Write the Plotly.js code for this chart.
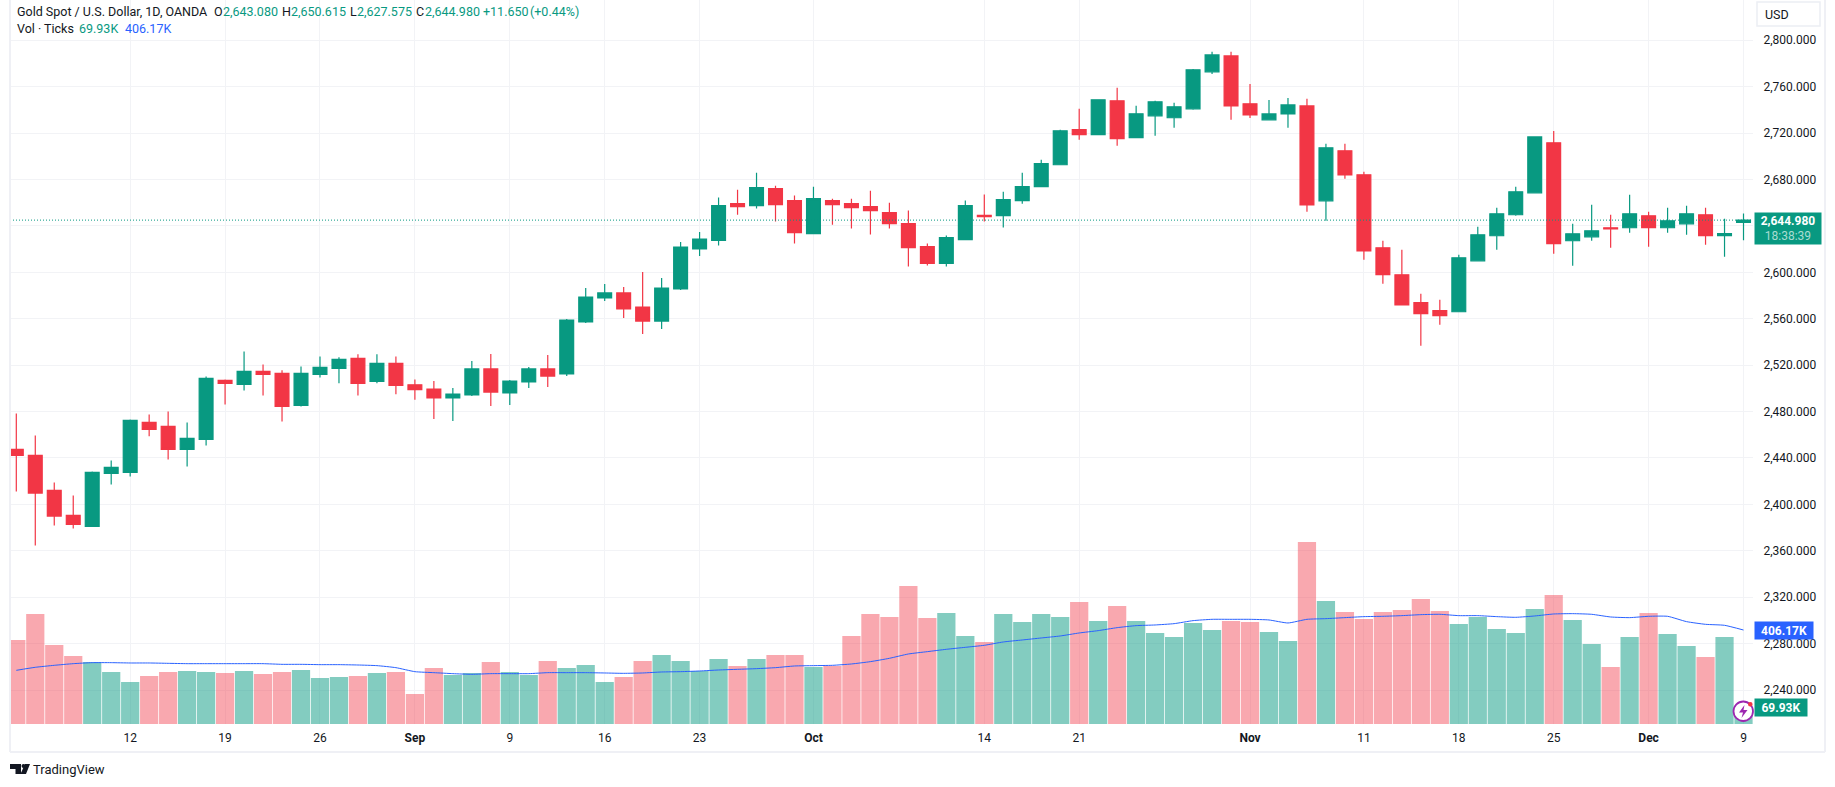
<!DOCTYPE html>
<html>
<head>
<meta charset="utf-8">
<title>Gold Spot / U.S. Dollar</title>
<script src="https://cdn.plot.ly/plotly-3.0.1.min.js"></script>
<style>
  html, body { margin: 0; padding: 0; background: #fff; }
  #plot { width: 1835px; height: 787px; }
</style>
</head>
<body>
<div id="plot"></div>
<script>
// ── Values ──────────────────────────────────────────────────────────
const dates = [
  "2024-08-02",
  "2024-08-05","2024-08-06","2024-08-07","2024-08-08","2024-08-09",
  "2024-08-12","2024-08-13","2024-08-14","2024-08-15","2024-08-16",
  "2024-08-19","2024-08-20","2024-08-21","2024-08-22","2024-08-23",
  "2024-08-26","2024-08-27","2024-08-28","2024-08-29","2024-08-30",
  "2024-09-02","2024-09-03","2024-09-04","2024-09-05","2024-09-06",
  "2024-09-09","2024-09-10","2024-09-11","2024-09-12","2024-09-13",
  "2024-09-16","2024-09-17","2024-09-18","2024-09-19","2024-09-20",
  "2024-09-23","2024-09-24","2024-09-25","2024-09-26","2024-09-27",
  "2024-09-30","2024-10-01","2024-10-02","2024-10-03","2024-10-04",
  "2024-10-07","2024-10-08","2024-10-09","2024-10-10","2024-10-11",
  "2024-10-14","2024-10-15","2024-10-16","2024-10-17","2024-10-18",
  "2024-10-21","2024-10-22","2024-10-23","2024-10-24","2024-10-25",
  "2024-10-28","2024-10-29","2024-10-30","2024-10-31","2024-11-01",
  "2024-11-04","2024-11-05","2024-11-06","2024-11-07","2024-11-08",
  "2024-11-11","2024-11-12","2024-11-13","2024-11-14","2024-11-15",
  "2024-11-18","2024-11-19","2024-11-20","2024-11-21","2024-11-22",
  "2024-11-25","2024-11-26","2024-11-27","2024-11-28","2024-11-29",
  "2024-12-02","2024-12-03","2024-12-04","2024-12-05","2024-12-06",
  "2024-12-09",
];
const opens = [
  2447.4,
  2442.2,2412.0,2390.5,2381.0,2426.7,
  2427.5,2470.6,2467.2,2447.4,2456.0,
  2506.8,2503.4,2514.6,2512.9,2485.3,
  2512.0,2517.2,2525.8,2506.0,2521.5,
  2503.0,2499.4,2491.7,2494.3,2516.7,
  2496.0,2505.5,2516.7,2512.4,2557.2,
  2577.9,2582.2,2570.1,2558.0,2585.6,
  2620.1,2627.4,2659.2,2657.5,2672.1,
  2661.8,2633.4,2661.8,2659.2,2656.6,
  2651.5,2642.0,2622.2,2607.6,2628.2,
  2649.0,2648.9,2661.8,2673.8,2692.7,
  2722.9,2718.6,2747.8,2716.0,2734.9,
  2733.2,2740.9,2772.8,2786.5,2745.2,
  2731.4,2736.5,2743.4,2661.6,2704.7,
  2684.0,2621.1,2597.9,2573.8,2566.9,
  2566.0,2609.9,2631.5,2649.6,2668.5,
  2711.6,2627.2,2630.6,2638.4,2638.4,
  2648.7,2638.4,2641.8,2649.6,2631.5,
  2643.08,
];
const highs = [
  2478.4,
  2459.4,2418.9,2407.7,2428.4,2437.9,
  2473.2,2477.5,2480.1,2470.6,2510.3,
  2507.7,2531.8,2520.6,2515.5,2518.9,
  2527.5,2526.7,2529.3,2529.3,2527.5,
  2507.7,2506.3,2500.3,2523.6,2529.6,
  2507.2,2518.4,2528.7,2559.8,2586.5,
  2589.9,2587.4,2600.3,2595.1,2626.1,
  2634.8,2664.4,2671.2,2685.9,2674.7,
  2666.1,2673.8,2663.5,2663.5,2670.4,
  2660.0,2653.2,2624.8,2631.7,2661.8,
  2667.0,2669.5,2685.9,2697.0,2722.9,
  2740.9,2748.7,2759.0,2743.5,2747.8,
  2746.1,2775.3,2790.0,2790.0,2762.4,
  2748.6,2750.3,2749.5,2710.7,2710.7,
  2686.6,2627.2,2619.4,2581.5,2576.3,
  2615.1,2639.2,2655.6,2673.7,2716.7,
  2721.9,2641.8,2658.2,2649.6,2666.8,
  2652.1,2655.6,2657.3,2655.6,2646.1,
  2650.615,
];
const lows = [
  2411.1,
  2364.6,2381.8,2379.3,2381.0,2417.2,
  2424.0,2458.6,2438.7,2432.7,2450.8,
  2486.1,2498.2,2493.9,2471.5,2484.4,
  2509.4,2504.3,2493.9,2504.3,2494.8,
  2490.2,2473.6,2471.8,2493.4,2484.8,
  2485.6,2500.3,2501.1,2510.6,2556.3,
  2575.3,2560.6,2546.8,2551.1,2584.8,
  2614.1,2623.1,2649.7,2654.9,2643.7,
  2624.8,2633.4,2641.1,2637.7,2632.5,
  2637.7,2605.0,2605.8,2605.0,2628.2,
  2643.7,2638.6,2659.2,2673.8,2692.7,
  2714.3,2718.6,2709.1,2716.0,2717.7,
  2724.6,2740.1,2771.0,2731.4,2733.1,
  2731.4,2724.5,2652.1,2644.4,2680.6,
  2610.8,2590.1,2572.0,2536.7,2554.8,
  2566.0,2609.9,2619.4,2648.7,2668.5,
  2616.0,2605.6,2627.2,2621.1,2634.0,
  2622.0,2634.0,2632.3,2623.7,2613.4,
  2627.575,
];
const closes = [
  2442.2,
  2409.7,2389.9,2382.7,2427.5,2431.8,
  2472.4,2464.6,2447.4,2456.8,2508.6,
  2504.3,2514.6,2512.0,2484.4,2512.9,
  2518.0,2524.9,2504.3,2521.5,2502.5,
  2498.8,2491.7,2495.1,2516.7,2496.8,
  2506.3,2516.7,2510.6,2558.9,2578.7,
  2582.2,2568.4,2558.0,2586.5,2621.8,
  2628.7,2657.5,2656.6,2673.0,2658.3,
  2634.2,2663.5,2658.3,2655.8,2653.2,
  2642.0,2621.3,2607.6,2629.9,2657.5,
  2648.0,2662.6,2673.8,2693.6,2722.0,
  2718.6,2748.7,2715.1,2736.6,2746.9,
  2742.6,2774.5,2787.4,2743.4,2735.7,
  2736.5,2744.3,2658.2,2707.3,2684.0,
  2618.5,2597.9,2572.0,2564.3,2562.6,
  2612.5,2632.3,2650.4,2669.4,2716.7,
  2624.6,2633.2,2635.8,2637.5,2650.4,
  2638.4,2644.4,2650.4,2631.5,2633.33,
  2644.98,
];
// volume in thousands of ticks
const volumes = [
  363.1,
  475.5,341.5,293.9,268.0,224.8,
  181.6,207.5,224.8,229.1,224.8,
  220.5,229.1,216.1,224.8,233.4,
  198.8,203.2,207.5,220.5,224.8,
  129.7,242.1,211.8,220.5,268.0,
  224.8,211.8,272.3,242.1,255.0,
  181.6,203.2,272.3,298.3,272.3,
  229.1,281.0,250.7,281.0,298.3,
  298.3,246.4,250.7,380.4,475.5,
  462.5,596.5,458.2,479.8,380.4,
  354.5,475.5,440.9,475.5,462.5,
  527.4,445.2,510.1,445.2,393.4,
  376.1,436.6,406.3,445.2,440.9,
  397.7,358.8,786.7,531.7,484.1,
  453.9,484.1,492.8,540.3,488.5,
  432.3,462.5,410.7,393.4,497.1,
  557.6,449.6,345.8,246.4,376.1,
  479.8,389.0,337.2,289.6,376.1,
  69.93,
];
const volumeMa = [
  232.0,
  245.0,253.6,260.8,265.1,265.1,
  263.7,263.7,262.2,260.8,260.8,
  260.8,260.8,260.8,257.9,257.9,
  256.5,256.5,255.0,252.2,243.5,
  226.2,221.9,217.6,214.7,217.6,
  217.6,217.6,221.9,221.9,221.9,
  220.5,219.0,220.5,224.8,226.2,
  229.1,233.4,236.3,239.2,243.5,
  250.7,252.2,253.6,259.4,269.5,
  283.9,302.6,312.7,322.8,331.4,
  340.1,354.5,363.1,371.8,380.4,
  393.4,403.5,416.4,425.1,428.0,
  433.7,446.7,452.4,452.4,452.4,
  449.6,436.6,452.4,455.3,459.7,
  464.0,465.4,468.3,472.6,474.1,
  468.3,468.3,464.0,461.1,466.9,
  475.5,476.9,474.1,462.5,459.7,
  465.4,465.4,442.4,430.8,426.5,
  406.17,
];
const timeTickVals = ["2024-08-12","2024-08-19","2024-08-26","2024-09-02","2024-09-09",
  "2024-09-16","2024-09-23","2024-10-01","2024-10-14","2024-10-21","2024-11-01",
  "2024-11-11","2024-11-18","2024-11-25","2024-12-02","2024-12-09"];
const timeTickText = ["12","19","26","<b>Sep</b>","9","16","23","<b>Oct</b>","14","21",
  "<b>Nov</b>","11","18","25","<b>Dec</b>","9"];
const priceTicks = [2240,2280,2320,2360,2400,2440,2480,2520,2560,2600,2640,2680,2720,2760,2800];
// 2,640 sits under the last-price tag, so it has no label of its own
const priceTickText = ["2,240.000","2,280.000","2,320.000","2,360.000","2,400.000","2,440.000",
  "2,480.000","2,520.000","2,560.000","2,600.000","","2,680.000","2,720.000","2,760.000","2,800.000"];
const lastClose = 2644.98;
const lastVolume = 69.93;
const lastVolumeMa = 406.17;

// ── Geometry of the screenshot ──────────────────────────────────────
const W = 1835, H = 787;
const M = { l: 10, r: 82, t: 0, b: 63 };
const plotW = W - M.l - M.r, plotH = H - M.t - M.b;
const px = (x) => (x - M.l) / plotW;           // pixel → paper x
const py = (y) => 1 - (y - M.t) / plotH;       // pixel → paper y
const GREEN = "#089981", RED = "#F23645", BLUE = "#2962FF", INK = "#131722";
const FONT = "Roboto, 'Noto Sans', sans-serif";

const volColors = closes.map((c, i) =>
  c < opens[i] ? "rgba(242,54,69,0.43)" : "rgba(8,153,129,0.5)");

const traces = [
  {
    type: "candlestick", x: dates, open: opens, high: highs, low: lows, close: closes,
    xaxis: "x", yaxis: "y", whiskerwidth: 0, hoverinfo: "skip",
    increasing: { line: { color: GREEN, width: 1.2 }, fillcolor: GREEN },
    decreasing: { line: { color: RED, width: 1.2 }, fillcolor: RED },
  },
  {
    type: "bar", x: dates, y: volumes, xaxis: "x", yaxis: "y2",
    marker: { color: volColors, line: { width: 0 } }, hoverinfo: "skip",
  },
  {
    type: "scatter", mode: "lines", x: dates, y: volumeMa, xaxis: "x", yaxis: "y2",
    line: { color: BLUE, width: 1, shape: "spline", smoothing: 0.5 }, hoverinfo: "skip",
  },
];

// ── Header legend, one chunk per text run ───────────────────────────
const legendRows = [
  { x: 16,  y: 12, text: "Gold Spot / U.S. Dollar, 1D, OANDA", color: INK },
  { x: 212.5, y: 12, text: "O", color: INK },
  { x: 221.5, y: 12, text: "2,643.080", color: GREEN },
  { x: 280.5, y: 12, text: "H", color: INK },
  { x: 289.5, y: 12, text: "2,650.615", color: GREEN },
  { x: 349, y: 12, text: "L", color: INK },
  { x: 356, y: 12, text: "2,627.575", color: GREEN },
  { x: 415, y: 12, text: "C", color: INK },
  { x: 423.5, y: 12, text: "2,644.980", color: GREEN },
  { x: 482, y: 12, text: "+11.650", color: GREEN },
  { x: 529, y: 12, text: "(+0.44%)", color: GREEN },
  { x: 16,  y: 29, text: "Vol · Ticks", color: INK },
  { x: 78, y: 29, text: "69.93K", color: GREEN },
  { x: 124, y: 29, text: "406.17K", color: BLUE },
];

const annotations = legendRows.map((r) => ({
  xref: "paper", yref: "paper", x: px(r.x), y: py(r.y), xanchor: "left", yanchor: "middle",
  text: r.text, showarrow: false, font: { family: FONT, size: 12.5, color: r.color },
  borderpad: 0,
}));

annotations.push(
  // USD box label
  { xref: "paper", yref: "paper", x: px(1764), y: py(14), xanchor: "left", yanchor: "middle",
    text: "USD", showarrow: false, borderpad: 0,
    font: { family: FONT, size: 12.5, color: INK } },
  // last price tag
  { xref: "paper", yref: "y", x: px(1754), y: lastClose, yshift: 8, xanchor: "left", yanchor: "top",
    text: "<b>2,644.980</b><br><span style='color:#a9dcd2'>18:38:39</span>", showarrow: false,
    width: 66, height: 31, bgcolor: GREEN, borderpad: 0, align: "center",
    font: { family: FONT, size: 12, color: "#fff" } },
  // MA tag
  { xref: "paper", yref: "y2", x: px(1754), y: lastVolumeMa, xanchor: "left", yanchor: "middle",
    text: "<b>" + lastVolumeMa + "K</b>", showarrow: false, width: 58, height: 17,
    bgcolor: BLUE, borderpad: 0, font: { family: FONT, size: 12, color: "#fff" } },
  // volume tag
  { xref: "paper", yref: "y2", x: px(1754), y: lastVolume, xanchor: "left", yanchor: "middle",
    text: "<b>" + lastVolume + "K</b>", showarrow: false, width: 52, height: 17,
    bgcolor: GREEN, borderpad: 0, font: { family: FONT, size: 12, color: "#fff" } },
  // footer wordmark
  { xref: "paper", yref: "paper", x: px(31), y: py(769), xanchor: "left", yanchor: "middle",
    text: "TradingView", showarrow: false, font: { family: FONT, size: 13, color: INK } }
);

const frameColor = "#eff0f5";
const pPath = (pts) => "M" + pts.map((p) => px(p[0]) + "," + py(p[1])).join("L") + "Z";
const shapes = [
  { type: "line", xref: "paper", yref: "y", x0: 0, x1: 1, y0: lastClose, y1: lastClose,
    line: { color: GREEN, width: 1, dash: "1px,2px" } },
  // outer frame
  { type: "line", xref: "paper", yref: "paper", x0: px(10), x1: px(10), y0: py(0), y1: py(752),
    line: { color: frameColor, width: 2 } },
  { type: "line", xref: "paper", yref: "paper", x0: px(1825), x1: px(1825), y0: py(0), y1: py(752),
    line: { color: frameColor, width: 2 } },
  { type: "line", xref: "paper", yref: "paper", x0: px(10), x1: px(1825), y0: py(752), y1: py(752),
    line: { color: frameColor, width: 2 } },
  // USD box
  { type: "rect", xref: "paper", yref: "paper", x0: px(1757), x1: px(1820), y0: py(2), y1: py(26),
    fillcolor: "#fff", line: { color: "#eceef4", width: 1.5 } },
  // news badge
  { type: "circle", xref: "paper", yref: "paper", x0: px(1733.5), x1: px(1753), y0: py(701.5), y1: py(721),
    fillcolor: "#fff", line: { color: "#9C27B0", width: 1.8 } },
  { type: "path", xref: "paper", yref: "paper", fillcolor: "#9C27B0", line: { width: 0 },
    path: pPath([[1744.5,705],[1739,712.5],[1743,712.5],[1741.5,718],[1747.5,710],[1743.5,710]]) },
  { type: "circle", xref: "paper", yref: "paper", x0: px(1748), x1: px(1752.6), y0: py(702), y1: py(706.6),
    fillcolor: RED, line: { width: 0 } },
  // footer logo
  { type: "path", xref: "paper", yref: "paper", fillcolor: INK, line: { width: 0 },
    path: pPath([[10,764],[21,764],[21,774],[15.5,774],[15.5,769],[10,769]]) },
  { type: "circle", xref: "paper", yref: "paper", x0: px(21.5), x1: px(25.5), y0: py(764), y1: py(768),
    fillcolor: INK, line: { width: 0 } },
  { type: "path", xref: "paper", yref: "paper", fillcolor: INK, line: { width: 0 },
    path: pPath([[25,764],[30,764],[26,774],[20.5,774]]) },
];

const layout = {
  width: W, height: H, margin: M, showlegend: false,
  paper_bgcolor: "#fff", plot_bgcolor: "#fff",
  font: { family: FONT, size: 12, color: INK },
  bargap: 0.04, boxgap: 0.27, boxgroupgap: 0, hovermode: false,
  xaxis: {
    type: "category", range: [-0.332, 91.5], rangeslider: { visible: false },
    tickmode: "array", tickvals: timeTickVals, ticktext: timeTickText, tickangle: 0,
    showgrid: true, gridcolor: "#f2f3f6", gridwidth: 1, zeroline: false, showline: false,
    ticks: "outside", ticklen: 3, tickcolor: "rgba(0,0,0,0)",
    tickfont: { family: FONT, size: 12, color: INK },
  },
  yaxis: {
    side: "right", range: [2210.7, 2834.7], tickmode: "array", tickvals: priceTicks,
    ticktext: priceTickText, showgrid: true, gridcolor: "#f2f3f6", gridwidth: 1,
    zeroline: false, showline: false, ticks: "outside", ticklen: 7, tickcolor: "rgba(0,0,0,0)",
    tickfont: { family: FONT, size: 12, color: INK },
  },
  yaxis2: {
    overlaying: "y", side: "right", range: [0, 3129], visible: false,
    showgrid: false, zeroline: false,
  },
  shapes, annotations,
};

Plotly.newPlot("plot", traces, layout, { staticPlot: true, displayModeBar: false });
</script>
</body>
</html>
